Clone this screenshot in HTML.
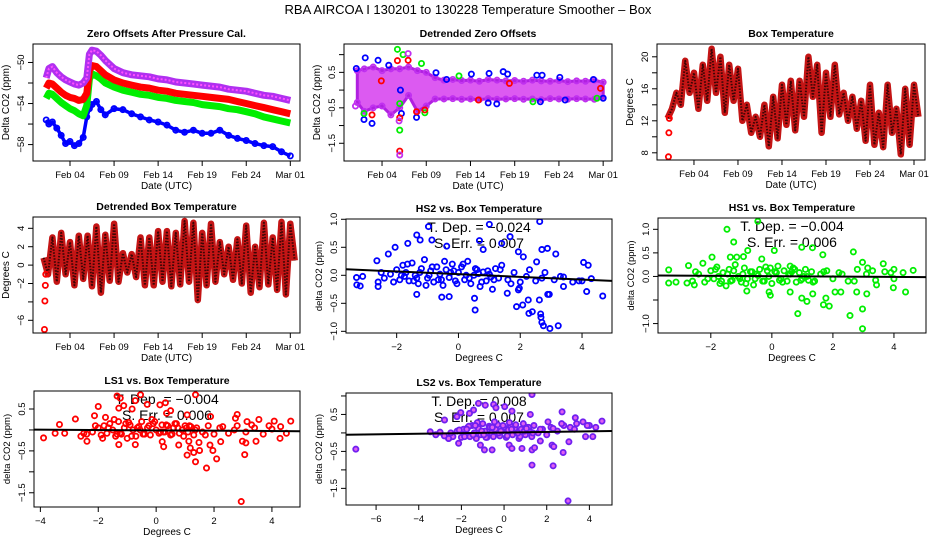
<!DOCTYPE html>
<html><head><meta charset="utf-8"><title>RBA AIRCOA I Temperature Smoother - Box</title>
<style>
html,body{margin:0;padding:0;background:#fff;}
svg{display:block;font-family:"Liberation Sans",Arial,sans-serif;}
</style></head>
<body>
<svg id="chart" width="936" height="540" viewBox="0 0 936 540">
<text x="468" y="14" text-anchor="middle" font-size="13">RBA   AIRCOA I   130201 to 130228   Temperature Smoother – Box</text>
</svg>
<script>
// ---------- Data: Zero offsets after pressure cal. ----------
const zoTimes = [1.3,1.6,2,2.5,3,3.5,4,4.5,5,5.5,5.9,6.2,6.5,7,7.5,8,9,10,11,12,13,14,15,16,17,18,19,20,21,22,23,24,25,26,27,28,29];
const zoPurple = [-51.5,-50.6,-50.4,-51,-51.4,-51.7,-51.9,-52.1,-52.2,-52,-51.5,-49.2,-48.8,-48.9,-49.3,-49.8,-50.6,-51,-51.2,-51.3,-51.4,-51.6,-51.7,-51.9,-52,-52.1,-52.2,-52.3,-52.4,-52.6,-52.7,-52.8,-53,-53.2,-53.3,-53.5,-53.7];
const zoRed = [-52.5,-52.0,-52.1,-52.5,-52.9,-53.2,-53.4,-53.5,-53.7,-53.6,-53,-50.8,-50.3,-50.4,-50.8,-51.2,-51.7,-52,-52.2,-52.4,-52.5,-52.7,-52.8,-53,-53.1,-53.2,-53.3,-53.4,-53.5,-53.6,-53.8,-54,-54.2,-54.4,-54.6,-54.8,-55];
const zoGreen = [-53.5,-53.0,-53.1,-53.5,-53.9,-54.2,-54.5,-54.7,-55,-55.2,-54.2,-51.6,-51.1,-51.3,-51.6,-52,-52.4,-52.7,-52.9,-53.1,-53.2,-53.4,-53.5,-53.7,-53.8,-53.9,-54.1,-54.2,-54.3,-54.5,-54.6,-54.8,-55.0,-55.3,-55.5,-55.7,-55.9];
const zoBlue = [-55.6,-56.0,-55.8,-56.4,-57.1,-57.9,-57.7,-58.1,-57.9,-57.3,-55.3,-54.5,-54.1,-53.8,-54.6,-55.1,-54.5,-54.6,-55,-55.3,-55.6,-55.8,-56.1,-56.6,-56.8,-56.6,-56.9,-56.9,-56.6,-57.1,-57.4,-57.6,-57.9,-58.1,-58.2,-58.7,-59.1];

// ---------- Data: Detrended zero offsets ----------
const dzDays = [1.2,2,3,4,5,6,7,8,9,10,11,12,13,14,15,16,17,18,19,20,21,22,23,24,25,26,27,28,29];
const dzHi = [0.55,0.6,0.65,0.55,0.6,0.6,0.65,0.55,0.5,0.35,0.28,0.3,0.27,0.28,0.25,0.3,0.28,0.26,0.27,0.25,0.28,0.26,0.25,0.27,0.24,0.26,0.25,0.28,0.22];
const dzLo = [-0.35,-0.6,-0.5,-0.45,-0.7,-0.5,-0.15,-0.6,-0.45,-0.25,-0.25,-0.24,-0.26,-0.25,-0.27,-0.24,-0.26,-0.25,-0.24,-0.26,-0.25,-0.27,-0.24,-0.25,-0.26,-0.24,-0.25,-0.26,-0.22];
const dzBlueOut = [[2.1,0.91],[3.55,0.84],[4.76,0.7],[1.09,0.61],[1.96,-0.83],[2.87,-0.94],[6.08,0],[6.19,-0.66],[7.9,-0.77],[10.1,0.49],[11.3,0.3],[14.1,0.45],[16.1,0.47],[17.7,0.52],[18.2,0.45],[21.5,0.42],[22.1,0.42],[24.1,0.36],[16.0,-0.36],[16.97,-0.39],[21.9,-0.33],[24.7,-0.28],[29,-0.23],[27.9,0.3]];
const dzGreenOut = [[5.74,1.15],[6.38,1.0],[8.46,0.75],[6.0,-0.38],[6.0,-1.13],[1.96,-0.66],[12.7,0.4],[8.84,-0.64],[21.06,-0.33],[28.3,-0.23]];
const dzRedOut = [[5.74,0.83],[6.95,0.84],[6.0,-1.72],[6.0,-0.78],[2.87,-0.7],[3.92,0.26],[8.84,-0.56],[7.9,-0.61],[14.9,-0.28],[18.4,0.19],[28.7,0.05]];
const dzPurpleOut = [[6.0,-1.83],[6.95,1.03],[5.93,-0.87],[1.0,-0.45]];

// ---------- Data: Box temperature ----------
const btDays = [1,2,3,4,5,6,7,8,9,10,11,12,13,14,15,16,17,18,19,20,21,22,23,24,25,26,27,28,29];
const btMax = [12.3,15.5,19.5,18,19,21,20,19,18.5,14,12.5,14,15,16.5,17,17,20,19,18,19,15.5,15,14.5,16.5,13,16.5,13.5,16,16.5];
const btMin = [13.5,14,15.5,13.5,14.5,15.5,13,14.5,12,10.5,10,8.8,9.8,11.5,10.8,12.5,15,10.5,12.5,12.8,12,11,9.5,9,8.7,10.5,7.8,9,12.5];
const btEarly = [[1.1,7.5],[1.15,10.5],[1.2,12.3]];

// ---------- Data: Detrended box temperature ----------
const dbDays = [1,2,3,4,5,6,7,8,9,10,11,12,13,14,15,16,17,18,19,20,21,22,23,24,25,26,27,28,29];
const dbMax = [0.8,3,3.5,2.5,3.2,3.2,4.2,3.3,4.5,1.3,1.2,3,3,3.7,3.7,3.5,4.8,4.6,3.5,4.5,2.5,2,2.8,4.3,2,4.6,3,4.7,4.5];
const dbMin = [-1,-1.8,-1,-2.2,-1.5,-2.3,-3,-1.7,-1.8,-0.8,-1.3,-2.2,-2.2,-1.8,-2.3,-2.1,-1.8,-3.8,-2.2,-1.8,-1,-1.6,-2,-3,-2.4,-2.1,-2.7,-3.2,0.5];
const dbEarly = [[1.1,-7],[1.15,-3.9],[1.2,-2.2],[1.25,-1]];

// ---------- Data: scatter vs temperature ----------
const coreTemp = [-2.6,-2.4,-2.2,-2.0,-1.9,-1.8,-1.7,-1.6,-1.5,-1.4,-1.3,-1.2,-1.1,-1.0,-0.9,-0.8,-0.7,-0.6,-0.5,-0.4,-0.3,-0.2,-0.1,0.0,0.1,0.2,0.3,0.4,0.5,0.6,0.7,0.8,0.9,1.0,1.1,1.2,1.3,1.4,1.6,1.8,2.0,2.2,2.5,2.8,3.1,3.4,3.7,4.0,4.3,-2.5,-2.1,-1.85,-1.65,-1.45,-1.25,-1.05,-0.85,-0.65,-0.45,-0.25,-0.05,0.15,0.35,0.55,0.75,0.95,1.15,1.35,1.7,2.3,2.7,3.3,3.9,-1.75,-1.35,-0.95,-0.55,-0.15,0.25,0.65,1.05];
const hs2CoreY = [-0.12,-0.05,0.02,0.1,-0.08,0.18,0.05,-0.1,0.22,0.0,-0.15,0.12,0.28,-0.05,0.08,-0.12,0.15,0.02,-0.18,0.1,-0.04,0.2,-0.1,0.05,0.15,-0.08,0.25,-0.15,0.0,0.1,-0.2,0.06,-0.1,0.02,-0.25,0.12,-0.05,0.18,-0.08,0.05,-0.12,-0.02,-0.1,0.05,-0.08,-0.03,-0.12,-0.1,-0.06,0.05,-0.12,0.0,0.2,-0.1,0.05,-0.18,0.15,-0.08,0.25,0.05,-0.15,0.2,-0.05,0.12,-0.12,0.08,-0.08,0.1,-0.15,0.1,-0.05,-0.02,-0.1,-0.02,-0.05,0.0,-0.08,0.08,0.0,0.03,-0.03];
const hs1CoreY = [-0.1,0.05,-0.12,0.12,-0.05,0.2,-0.15,0.08,-0.2,0.15,-0.08,0.25,0.0,-0.12,0.18,-0.05,0.1,-0.18,0.05,0.15,-0.1,0.2,0.0,-0.15,0.1,0.22,-0.05,0.12,-0.1,0.05,0.18,-0.12,0.08,-0.05,0.15,-0.08,0.1,-0.1,0.05,0.12,-0.05,0.08,-0.1,0.15,0.05,-0.08,0.1,-0.05,0.08,0.1,-0.05,0.15,-0.1,0.05,0.12,-0.05,-0.15,0.1,0.02,-0.1,0.18,0.08,-0.12,0.05,0.15,-0.08,0.0,-0.12,0.1,0.05,-0.1,0.12,0.08,0.0,-0.1,0.05,-0.05,0.12,-0.08,0.1,0.0];
const ls1CoreY = [-0.15,-0.1,-0.05,0.05,-0.12,0.1,-0.08,0.15,0.0,-0.15,0.2,-0.1,0.05,-0.2,0.12,0.0,-0.15,0.08,0.2,-0.1,0.05,-0.12,0.15,0.0,-0.08,0.12,-0.05,0.1,-0.12,0.05,0.15,-0.08,0.0,0.1,-0.05,0.08,-0.12,0.05,-0.05,0.1,-0.1,0.05,-0.08,0.1,-0.05,0.05,-0.1,0.02,0.08,-0.08,0.1,-0.2,0.05,0.25,-0.08,0.15,-0.15,0.05,-0.1,0.1,0.2,-0.05,0.12,-0.1,0.05,-0.15,0.1,0.0,-0.12,0.08,0.0,0.12,0.1,0.3,-0.1,0.18,0.0,0.25,-0.05,0.15,0.05];
const ls2CoreY = [-0.15,-0.1,0.05,-0.12,0.1,-0.05,0.15,-0.1,0.2,0.0,-0.15,0.12,-0.05,0.25,0.05,-0.12,0.18,0.0,-0.1,0.1,0.22,-0.08,0.05,0.15,-0.12,0.08,0.2,-0.05,0.12,0.0,-0.15,0.1,0.25,-0.05,0.15,0.05,-0.1,0.2,0.0,0.1,-0.05,0.15,0.05,0.2,0.15,0.25,0.3,0.2,0.15,0.0,0.08,-0.1,0.18,-0.05,0.28,0.05,-0.12,0.15,0.3,0.0,0.2,-0.08,0.1,0.22,-0.1,0.05,0.15,0.0,0.1,0.12,0.25,0.1,0.2,0.1,0.2,-0.05,0.15,0.05,0.28,0.0,0.12];
const hs2Out = [[-0.97,0.87],[1.0,0.91],[2.63,0.96],[-1.35,0.72],[-1.24,0.63],[-1.64,0.57],[-2.05,0.5],[-0.86,0.63],[-0.38,0.52],[0.68,0.62],[0.8,0.46],[1.67,0.69],[1.4,0.57],[2.7,0.46],[2.88,0.48],[3.15,0.38],[1.94,0.42],[-2.27,0.38],[-2.64,0.26],[2.1,0.33],[2.53,0.24],[4.05,0.23],[4.2,0.18],[0.52,-0.41],[-0.54,-0.39],[-1.35,-0.34],[-0.3,-0.38],[1.58,-0.32],[1.88,-0.56],[2.08,-0.53],[2.26,-0.44],[2.28,-0.68],[2.39,-0.65],[2.62,-0.44],[2.66,-0.69],[2.67,-0.75],[2.7,-0.84],[2.75,-0.9],[2.96,-0.95],[3.23,-0.9],[2.89,-0.34],[2.94,-0.34],[1.94,-0.26],[1.97,-0.23],[3.4,-0.2],[4.15,-0.29],[4.67,-0.37],[-3.29,-0.17],[-3.18,-0.19],[-3.3,-0.04],[-3.1,-0.02],[-2.6,-0.2],[0.54,-0.62]];
const hs1Out = [[-0.46,1.17],[-1.47,1.0],[-1.25,0.73],[0.98,0.62],[1.33,0.61],[2.67,0.52],[1.67,0.46],[-0.79,0.55],[-0.93,0.42],[-1.96,0.41],[-1.36,0.41],[-1.15,0.41],[0.08,0.55],[-0.33,0.37],[-3.38,0.14],[-2.73,0.23],[-2.26,0.28],[0.6,0.22],[2.97,0.3],[3.14,0.18],[3.65,0.27],[4.0,0.15],[4.63,0.13],[-3.38,-0.14],[-3.14,-0.12],[-2.78,-0.14],[-2.54,-0.18],[-0.09,-0.33],[-0.05,-0.4],[0.98,-0.46],[1.15,-0.53],[1.34,-0.37],[1.69,-0.6],[1.88,-0.63],[1.77,-0.46],[2.07,-0.33],[2.26,-0.33],[2.78,-0.33],[3.11,-0.37],[2.97,-0.69],[2.56,-0.83],[0.85,-0.79],[2.97,-1.11],[3.43,-0.18],[3.98,-0.24],[4.38,-0.33],[0.6,-0.33],[-0.82,-0.31]];
const ls1Out = [[-1.35,0.81],[-0.54,0.84],[1.36,0.84],[-1.24,0.76],[-0.72,0.7],[-0.31,0.61],[0.32,0.65],[0.13,0.6],[-2.0,0.56],[-1.29,0.52],[-1.12,0.58],[-0.83,0.5],[0.5,0.46],[0.36,0.4],[-2.13,0.34],[-2.79,0.26],[1.07,0.36],[1.88,0.32],[2.8,0.37],[2.74,0.28],[3.14,0.2],[3.55,0.25],[4.08,0.21],[4.65,0.21],[-3.34,0.13],[-3.49,-0.08],[-3.89,-0.19],[-3.16,-0.08],[-2.39,-0.27],[-1.29,-0.35],[-0.72,-0.35],[0.21,-0.28],[0.26,-0.4],[0.78,-0.36],[1.13,-0.27],[1.48,-0.3],[1.18,-0.43],[1.07,-0.6],[1.3,-0.54],[1.5,-0.49],[1.36,-0.76],[1.74,-0.91],[1.86,-0.36],[1.96,-0.49],[2.09,-0.69],[2.23,-0.28],[2.98,-0.27],[3.1,-0.31],[3.06,-0.59],[3.45,-0.27],[4.28,-0.2],[4.5,-0.08],[2.94,-1.71]];
const ls2Out = [[1.31,1.04],[-1.2,0.8],[-0.88,0.75],[-0.49,0.77],[-0.38,0.68],[0.03,0.71],[0.37,0.59],[-1.43,0.62],[-1.62,0.53],[1.23,0.5],[2.72,0.57],[-2.79,0.35],[-2.21,0.44],[-2.03,0.55],[2.06,0.3],[3.34,0.41],[4.59,0.32],[-3.46,0.03],[-2.6,-0.15],[-2.13,-0.28],[-1.11,-0.33],[-0.92,-0.46],[-0.56,-0.46],[0.24,-0.33],[0.37,-0.42],[0.84,-0.42],[1.31,-0.46],[1.43,-0.4],[1.7,-0.22],[2.25,-0.33],[2.33,-0.37],[2.77,-0.53],[3.04,-0.24],[1.31,-0.87],[2.3,-0.89],[-6.95,-0.44],[3.0,-1.84],[3.82,-0.1],[4.16,-0.1],[-3.2,-0.05],[-3.0,0.02],[-2.8,-0.08]];
const fitIntercept = [0.02, 0.005, -0.01, 0.01];
const fitSlope = [-0.024, -0.004, -0.004, 0.008];
const fitDepText = ["T. Dep. =  \u22120.024","T. Dep. =  \u22120.004","T. Dep. =  \u22120.004","T. Dep. =   0.008"];
const fitErrText = ["S. Err. =  0.007","S. Err. = 0.006","S. Err. =  0.006","S. Err. = 0.007"];

const dateTicks = [4,9,14,19,24,29];
const dateLabels = ["Feb 04","Feb 09","Feb 14","Feb 19","Feb 24","Mar 01"];

const NS = "http://www.w3.org/2000/svg";
const svg = document.getElementById('chart');
function el(tag, attrs, parent){
  const e = document.createElementNS(NS, tag);
  for (const k in attrs) e.setAttribute(k, attrs[k]);
  (parent||svg).appendChild(e);
  return e;
}
function scale(d0,d1,r0,r1){ return v => r0 + (v-d0)/(d1-d0)*(r1-r0); }

function panel(c){
  const g = el('g', {});
  
  
  const X = scale(c.xd[0],c.xd[1],c.box[0],c.box[2]);
  const Y = scale(c.yd[0],c.yd[1],c.box[3],c.box[1]);
  const cx = (c.box[0]+c.box[2])/2;
  const t = el('text', {x:cx, y:c.box[1]-7, 'text-anchor':'middle', 'font-size':'10.5', 'font-weight':'bold'}, g);
  t.textContent = c.title;
  
  
  const clipId = 'clip'+c.name;
  const cp = el('clipPath', {id:clipId}, g);
  el('rect', {x:c.box[0], y:c.box[1], width:c.box[2]-c.box[0], height:c.box[3]-c.box[1]}, cp);
  const plot = el('g', {'clip-path':'url(#'+clipId+')'}, g);
  
  
  const xa = el('g', {}, g);
  
  
  const bx0 = X(c.xticks[0]), bx1 = X(c.xticks[c.xticks.length-1]);
  el('line', {x1:bx0, x2:bx1, y1:c.box[3], y2:c.box[3], stroke:'#000'}, xa);
  c.xticks.forEach((v,i) => {
    el('line', {x1:X(v), x2:X(v), y1:c.box[3], y2:c.box[3]+5, stroke:'#000'}, xa);
    const tl = el('text', {x:X(v), y:c.box[3]+17, 'text-anchor':'middle', 'font-size':'9.5'}, xa);
    tl.textContent = c.xlabels[i];
    
    
  });
  const xl = el('text', {x:cx, y:c.box[3]+28, 'text-anchor':'middle', 'font-size':'10'}, g);
  xl.textContent = c.xlab;
  
  
  const ya = el('g', {}, g);
  
  
  const by0 = Y(c.yticks[0]), by1 = Y(c.yticks[c.yticks.length-1]);
  el('line', {x1:c.box[0], x2:c.box[0], y1:by0, y2:by1, stroke:'#000'}, ya);
  c.yticks.forEach((v,i) => {
    el('line', {x1:c.box[0]-5, x2:c.box[0], y1:Y(v), y2:Y(v), stroke:'#000'}, ya);
    if (c.ylabels[i] !== '') {
      const lx = c.box[0]-9, ly = Y(v);
      const tl = el('text', {x:lx, y:ly, 'text-anchor':'middle', 'font-size':'9.5', transform:'rotate(-90 '+lx+' '+ly+')'}, ya);
      tl.textContent = c.ylabels[i];
      
      
    }
  });
  const yx = c.box[0]-24, yy = (c.box[1]+c.box[3])/2;
  const yl = el('text', {x:yx, y:yy, 'text-anchor':'middle', 'font-size':c.ylabSize||'10', transform:'rotate(-90 '+yx+' '+yy+')'}, g);
  yl.textContent = c.ylab;
  
  
  const fr = el('rect', {x:c.box[0], y:c.box[1], width:c.box[2]-c.box[0], height:c.box[3]-c.box[1], fill:'none', stroke:'#000'}, g);
  
  
  return {X, Y, plot, cx};
}

function pts(p, arr, stroke, fill, name){
  arr.forEach(d => {
    const c = el('circle', {cx:p.X(d[0]), cy:p.Y(d[1]), r:2.6, fill:fill||'none', stroke:stroke, 'stroke-width':1.8}, p.plot);
    
    
  });
}
function line(p, xs, ys, stroke, w, name, dash){
  const d = xs.map((x,i)=>(i?'L':'M')+p.X(x).toFixed(1)+','+p.Y(ys[i]).toFixed(1)).join('');
  const attrs = {d:d, fill:'none', stroke:stroke, 'stroke-width':w, 'stroke-linejoin':'round'};
  if (dash) attrs['stroke-dasharray'] = dash;
  const e = el('path', attrs, p.plot);
  
  
}
function zig(p, days, mx, mn, name){
  const xs=[], ys=[];
  days.forEach((d,i)=>{ xs.push(d); ys.push(mx[i]); xs.push(d+0.5); ys.push(mn[i]); });
  line(p, xs, ys, '#c41515', 6.5, name);
  line(p, xs, ys, '#3a0505', 2, name+'-core', '1.5 1.5');
}

// Panel 1
const p1 = panel({name:'zero-offsets-panel', box:[33,44,300,161], xd:[-0.2,30.1], yd:[-59.6,-48.2], title:'Zero Offsets After Pressure Cal.', xlab:'Date (UTC)', ylab:'Delta CO2 (ppm)', xticks:dateTicks, xlabels:dateLabels, yticks:[-58,-56,-54,-52,-50], ylabels:['\u221258','','\u221254','','\u221250']});
line(p1, zoTimes, zoBlue, '#0000ff', 3.5, 'series-blue');
pts(p1, zoTimes.map((t,i)=>[t,zoBlue[i]]), '#0000ff', 'none', 'point-blue');
line(p1, zoTimes, zoGreen, '#00ee00', 7, 'series-green');
line(p1, zoTimes, zoRed, '#ff0000', 7, 'series-red');
line(p1, zoTimes, zoPurple, '#b030f0', 7, 'series-purple');
line(p1, zoTimes, zoPurple, '#ff50ff', 2, 'series-purple-core', '2 2');

// Panel 2
const p2 = panel({name:'detrended-zero-offsets-panel', box:[344,44,612,161], xd:[-0.3,30.0], yd:[-2.0,1.30], title:'Detrended Zero Offsets', xlab:'Date (UTC)', ylab:'Delta CO2 (ppm)', xticks:dateTicks, xlabels:dateLabels, yticks:[-1.5,-1.0,-0.5,0,0.5,1.0], ylabels:['\u22121.5','','\u22120.5','','0.5','']});
{
  const d = dzDays.map((x,i)=>(i?'L':'M')+p2.X(x).toFixed(1)+','+p2.Y(dzHi[i]).toFixed(1)).join('') +
            dzDays.slice().reverse().map((x,j)=>'L'+p2.X(x).toFixed(1)+','+p2.Y(dzLo[dzDays.length-1-j]).toFixed(1)).join('') + 'Z';
  const band = el('path', {d:d, fill:'#d848f0', stroke:'#b020e0', 'stroke-width':3, 'fill-opacity':0.9}, p2.plot);
  
  
}
pts(p2, dzDays.map((x,i)=>[x,dzHi[i]]), '#c030f0', 'none', 'point-purple');
pts(p2, dzDays.map((x,i)=>[x,dzLo[i]]), '#c030f0', 'none', 'point-purple');
pts(p2, dzBlueOut, '#0000ff', 'none', 'point-blue');
pts(p2, dzGreenOut, '#00ee00', 'none', 'point-green');
pts(p2, dzRedOut, '#ff0000', 'none', 'point-red');
pts(p2, dzPurpleOut, '#c030f0', 'none', 'point-purple');

// Panel 3
const p3 = panel({name:'box-temperature-panel', box:[657,44,925,160], xd:[-0.2,30.25], yd:[7.1,21.6], title:'Box Temperature', xlab:'Date (UTC)', ylab:'Degrees C', xticks:dateTicks, xlabels:dateLabels, yticks:[8,10,12,14,16,18,20], ylabels:['8','','12','','16','','20']});
zig(p3, btDays, btMax, btMin, 'box-temp-series');
pts(p3, btEarly, '#ff0000', 'none', 'point-red');

// Panel 4
const p4 = panel({name:'detrended-box-temperature-panel', box:[33,217,300,333], xd:[-0.2,30.1], yd:[-7.38,5.23], title:'Detrended Box Temperature', xlab:'Date (UTC)', ylab:'Degrees C', xticks:dateTicks, xlabels:dateLabels, yticks:[-6,-4,-2,0,2,4], ylabels:['\u22126','','\u22122','0','2','4']});
zig(p4, dbDays, dbMax, dbMin, 'detrended-temp-series');
pts(p4, dbEarly, '#ff0000', 'none', 'point-red');

// Scatter panels
const scat = [
 {name:'hs2-panel', box:[346,219,612,333], xd:[-3.64,4.97], yd:[-1.03,1.005], title:'HS2 vs. Box Temperature', xticks:[-2,0,2,4], yticks:[-1.0,-0.5,0,0.5,1.0], ylabels:['\u22121.0','\u22120.5','0.0','0.5','1.0'], core:hs2CoreY, out:hs2Out, stroke:'#0000ff', fill:'none', k:0},
 {name:'hs1-panel', box:[658,218,926,333], xd:[-3.73,5.05], yd:[-1.2,1.24], title:'HS1 vs. Box Temperature', xticks:[-2,0,2,4], yticks:[-1.0,-0.5,0,0.5,1.0], ylabels:['\u22121.0','','0.0','0.5','1.0'], core:hs1CoreY, out:hs1Out, stroke:'#00ee00', fill:'none', k:1},
 {name:'ls1-panel', box:[34,391,300,507], xd:[-4.22,4.97], yd:[-1.84,0.93], title:'LS1 vs. Box Temperature', xticks:[-4,-2,0,2,4], yticks:[-1.5,-1.0,-0.5,0,0.5], ylabels:['\u22121.5','','\u22120.5','','0.5'], core:ls1CoreY, out:ls1Out, stroke:'#ff0000', fill:'none', k:2},
 {name:'ls2-panel', box:[346,393,612,505], xd:[-7.41,5.06], yd:[-1.95,1.08], title:'LS2 vs. Box Temperature', xticks:[-6,-4,-2,0,2,4], yticks:[-1.5,-1.0,-0.5,0,0.5,1.0], ylabels:['\u22121.5','','\u22120.5','','0.5',''], core:ls2CoreY, out:ls2Out, stroke:'#7020f0', fill:'#e060f0', k:3}
];
scat.forEach(s => {
  const p = panel({name:s.name, box:s.box, xd:s.xd, yd:s.yd, title:s.title, xlab:'Degrees C', ylab:'delta CO2 (ppm)', ylabSize:'9.5', xticks:s.xticks, xlabels:s.xticks.map(v=>v<0?'\u2212'+(-v):String(v)), yticks:s.yticks, ylabels:s.ylabels});
  const t1 = el('text', {x:p.cx, y:s.box[1]+13, 'text-anchor':'middle', 'font-size':'14'}, p.plot);
  t1.textContent = fitDepText[s.k];
  
  
  const t2 = el('text', {x:p.cx, y:s.box[1]+29, 'text-anchor':'middle', 'font-size':'14'}, p.plot);
  t2.textContent = fitErrText[s.k];
  
  
  pts(p, coreTemp.map((x,i)=>[x, s.core[i]]), s.stroke, s.fill, 'scatter-point');
  pts(p, s.out, s.stroke, s.fill, 'scatter-point');
  const a = fitIntercept[s.k], b = fitSlope[s.k];
  const fl = el('line', {x1:p.X(s.xd[0]), y1:p.Y(a+b*s.xd[0]), x2:p.X(s.xd[1]), y2:p.Y(a+b*s.xd[1]), stroke:'#000', 'stroke-width':2}, p.plot);
  
  
});
</script>
</body></html>
